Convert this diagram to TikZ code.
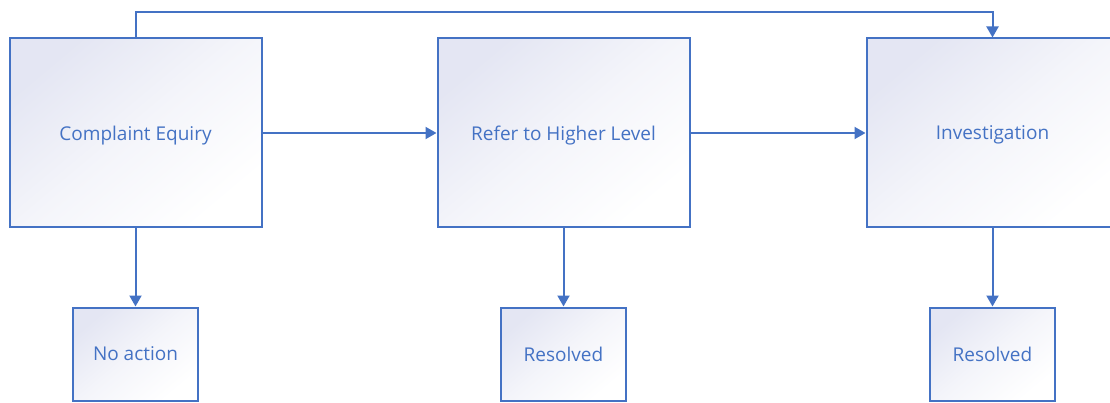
\documentclass[tikz,border=0pt]{standalone}
\usepackage{fontspec}
\setmainfont{Open Sans}
\usetikzlibrary{arrows.meta}
\definecolor{bl}{HTML}{4472C4}
\definecolor{lav}{HTML}{E4E6F3}
\tikzset{
  boxbase/.style={draw=bl, line width=2pt, inner sep=0pt, text=bl, text depth=0pt,
    font=\fontsize{19}{22}\selectfont, top color=lav, bottom color=white, middle color=white!60!lav, shading angle=40},
  bigbox/.style={boxbase, minimum width=252pt, minimum height=189pt},
  smallbox/.style={boxbase, minimum width=125pt, minimum height=93pt},
  arr/.style={draw=bl, line width=2pt, -{Triangle[length=11pt,width=12pt]}}
}
\begin{document}
\begin{tikzpicture}[x=1pt,y=-1pt]
\useasboundingbox (0,0) rectangle (1110,403);
\clip (0,0) rectangle (1110,403);
\node[bigbox] (ce) at (135.5,133) {Complaint Equiry};
\node[bigbox] (rhl) at (563.5,133) {Refer to Higher Level};
\node[bigbox] (inv) at (992.5,133) {Investigation};
\node[smallbox] (na) at (135.5,354) {No action};
\node[smallbox] (r1) at (563.5,354) {Resolved};
\node[smallbox] (r2) at (992.5,354) {Resolved};
\draw[arr] (ce.east) -- (rhl.west);
\draw[arr] (rhl.east) -- (inv.west);
\draw[arr] (ce.south) -- (na.north);
\draw[arr] (rhl.south) -- (r1.north);
\draw[arr] (inv.south) -- (r2.north);
\coordinate (tl) at (135.5,12);
\draw[arr] (ce.north) -- (tl) -| (inv.north);
\end{tikzpicture}
\end{document}
